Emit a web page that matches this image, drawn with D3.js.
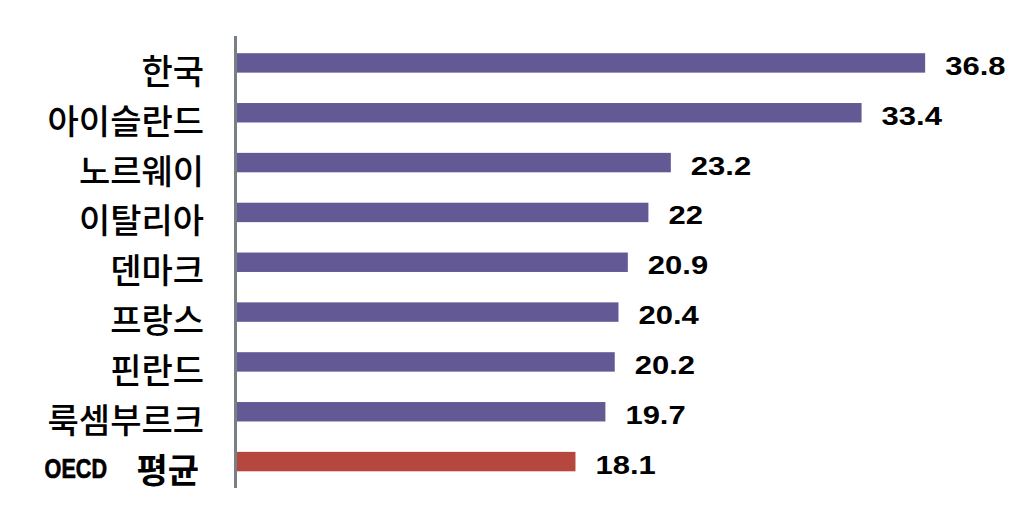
<!DOCTYPE html>
<html>
<head>
<meta charset="utf-8">
<script src="https://cdn.jsdelivr.net/npm/d3@7"></script>
<style>
  html, body { margin: 0; padding: 0; background: #ffffff; }
  svg { display: block; }
</style>
</head>
<body>
<svg id="chart" width="1024" height="525"></svg>
<script>
const categories = ["한국", "아이슬란드", "노르웨이", "이탈리아", "덴마크", "프랑스", "핀란드", "룩셈부르크", "OECD 평균"];
const values = [36.8, 33.4, 23.2, 22, 20.9, 20.4, 20.2, 19.7, 18.1];
const valueLabels = ["36.8", "33.4", "23.2", "22", "20.9", "20.4", "20.2", "19.7", "18.1"];
const highlight = ["OECD 평균"];

const data = categories.map((c, i) => ({ cat: c, value: values[i], label: valueLabels[i] }));

const svg = d3.select("#chart");

const x = d3.scaleLinear().domain([0, 40]).range([237, 237 + 18.7 * 40]);
const y = d3.scaleBand().domain(categories).range([38, 486.5]).paddingInner(0.61).paddingOuter(0.305);

const purple = "#635995";
const red = "#b5473f";

// bars
svg.append("g").selectAll("rect").data(data).join("rect")
  .attr("x", x(0))
  .attr("y", d => y(d.cat))
  .attr("width", d => x(d.value) - x(0))
  .attr("height", y.bandwidth())
  .attr("fill", d => highlight.includes(d.cat) ? red : purple);

// axis line (category axis)
const yAxis = d3.axisLeft(y).tickSize(0).tickFormat("");
const ag = svg.append("g").attr("transform", "translate(235.5,0)").call(yAxis);
ag.select(".domain").remove();
ag.append("line")
  .attr("x1", 0).attr("x2", 0)
  .attr("y1", 36).attr("y2", 488)
  .attr("stroke", "#7a7f86").attr("stroke-width", 3);

// category labels
const labelG = svg.append("g");
data.forEach(d => {
  const cy = y(d.cat) + y.bandwidth() / 2;
  if (d.cat.startsWith("OECD")) {
    const parts = d.cat.split(" ");
    labelG.append("text")
      .attr("x", 199).attr("y", cy + 7)
      .attr("text-anchor", "end")
      .attr("dominant-baseline", "central")
      .style("font-family", "'Noto Sans CJK KR', 'Noto Sans', sans-serif")
      .style("font-size", "34px")
      .style("font-weight", "700")
      .attr("fill", "#000")
      .text(parts.slice(1).join(" "));
    labelG.append("text")
      .attr("transform", `translate(107,${cy + 7}) scale(0.8,1)`)
      .attr("text-anchor", "end")
      .attr("dominant-baseline", "central")
      .style("font-family", "'Liberation Sans', Arial, sans-serif")
      .style("font-size", "27px")
      .style("font-weight", "700")
      .attr("fill", "#000")
      .attr("stroke", "#000")
      .attr("stroke-width", 0.7)
      .text(parts[0]);
  } else {
    labelG.append("text")
      .attr("x", 204).attr("y", cy + 6.5)
      .attr("text-anchor", "end")
      .attr("dominant-baseline", "central")
      .style("font-family", "'Noto Sans CJK KR', 'Noto Sans', sans-serif")
      .style("font-size", "34px")
      .style("font-weight", "500")
      .attr("fill", "#000")
      .text(d.cat);
  }
});

// value labels
svg.append("g").selectAll("text").data(data).join("text")
  .attr("transform", d => `translate(${x(d.value) + 20},${y(d.cat) + y.bandwidth() / 2 + 3.5}) scale(1.24,1)`)
  .attr("dominant-baseline", "central")
  .style("font-family", "'Liberation Sans', Arial, sans-serif")
  .style("font-size", "25px")
  .style("font-weight", "700")
  .attr("fill", "#000")
  .text(d => d.label);
</script>
</body>
</html>
